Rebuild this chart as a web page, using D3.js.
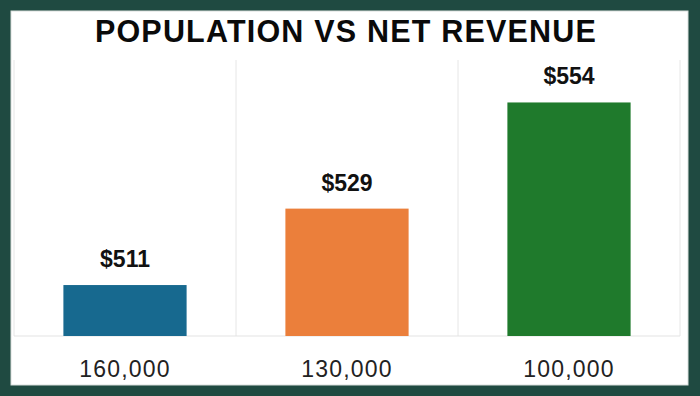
<!DOCTYPE html>
<html>
<head>
<meta charset="utf-8">
<script src="https://cdn.jsdelivr.net/npm/d3@7"></script>
<style>
  html, body { margin: 0; padding: 0; background: #1f4a41; }
  svg { display: block; }
</style>
</head>
<body>
<svg id="chart" width="700" height="396"></svg>
<script>
// chart data
var populations = ["160,000", "130,000", "100,000"];
var revenues = [511, 529, 554];
var barColors = ["#17698f", "#eb7f3b", "#1f7a2c"];
var titleText = "POPULATION VS NET REVENUE";

var svg = d3.select("#chart");

// white card on the dark green frame
svg.append("rect")
  .attr("x", 11).attr("y", 11)
  .attr("width", 677).attr("height", 374)
  .attr("fill", "#ffffff")
  .attr("stroke", "#d9dedc").attr("stroke-width", 1);

var plot = { left: 14, right: 680, top: 60, bottom: 336 };

// one column per population, bar sits in the middle of it
var x = d3.scaleBand()
  .domain(populations)
  .range([plot.left, plot.right])
  .padding(0);

var barWidth = x.bandwidth() * 0.555;

// axis does not start at zero
var y = d3.scaleLinear()
  .domain([499, 564])
  .range([plot.bottom, plot.top]);

// vertical grid lines on column edges
var edges = populations.map(function(p) { return x(p); }).concat([plot.right]);
svg.append("g").selectAll("line")
  .data(edges)
  .enter().append("line")
  .attr("x1", function(d) { return d; })
  .attr("x2", function(d) { return d; })
  .attr("y1", plot.top).attr("y2", plot.bottom)
  .attr("stroke", "#e6e6e6").attr("stroke-width", 1);

// baseline
svg.append("line")
  .attr("x1", plot.left).attr("x2", plot.right)
  .attr("y1", plot.bottom).attr("y2", plot.bottom)
  .attr("stroke", "#e3e3e3").attr("stroke-width", 1);

var rows = populations.map(function(p, i) {
  return { pop: p, value: revenues[i], color: barColors[i] };
});

// bars
svg.append("g").selectAll("rect")
  .data(rows)
  .enter().append("rect")
  .attr("x", function(d) { return x(d.pop) + (x.bandwidth() - barWidth) / 2; })
  .attr("y", function(d) { return y(d.value); })
  .attr("width", barWidth)
  .attr("height", function(d) { return plot.bottom - y(d.value); })
  .attr("fill", function(d) { return d.color; });

// value labels above bars
svg.append("g").selectAll("text")
  .data(rows)
  .enter().append("text")
  .attr("x", function(d) { return x(d.pop) + x.bandwidth() / 2; })
  .attr("y", function(d) { return y(d.value) - 18; })
  .attr("text-anchor", "middle")
  .attr("font-family", "'Liberation Sans', Arial, sans-serif")
  .attr("font-weight", "bold")
  .attr("font-size", 23)
  .attr("fill", "#111")
  .text(function(d) { return "$" + d.value; });

// category labels under the baseline
svg.append("g").selectAll("text")
  .data(populations)
  .enter().append("text")
  .attr("x", function(d) { return x(d) + x.bandwidth() / 2; })
  .attr("y", 377)
  .attr("text-anchor", "middle")
  .attr("font-family", "'Liberation Sans', Arial, sans-serif")
  .attr("font-size", 23)
  .attr("letter-spacing", 1.2)
  .attr("fill", "#222")
  .text(function(d) { return d; });

// title
svg.append("text")
  .attr("x", 346)
  .attr("y", 42)
  .attr("text-anchor", "middle")
  .attr("font-family", "'Liberation Sans', Arial, sans-serif")
  .attr("font-weight", "bold")
  .attr("font-size", 30.5)
  .attr("letter-spacing", 1.2)
  .attr("fill", "#0a0a0a")
  .text(titleText);
</script>
</body>
</html>
